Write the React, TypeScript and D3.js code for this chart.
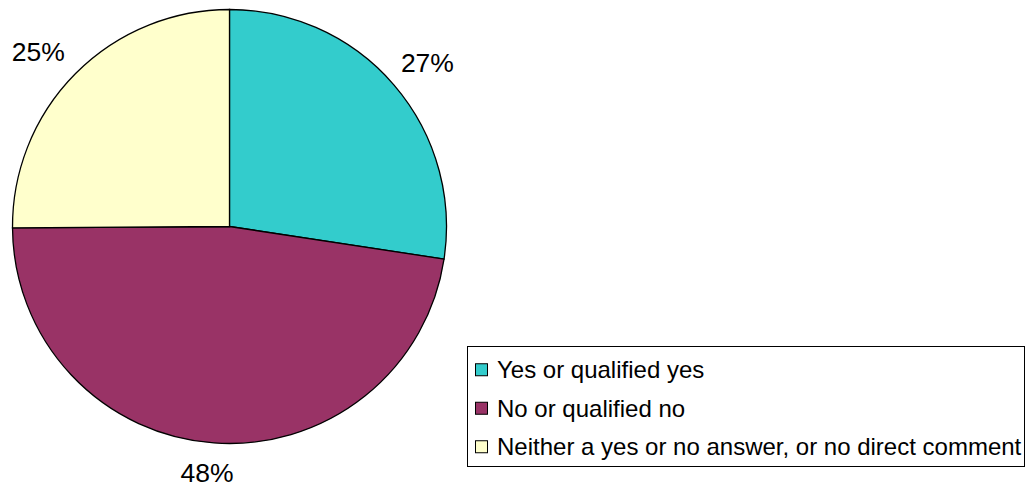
import React from "react";
import * as d3 from "d3";

const categories = ["Yes or qualified yes", "No or qualified no", "Neither a yes or no answer, or no direct comment"];
const values = [27.4, 47.5, 25.1];
const labels = ["27%", "48%", "25%"];
const colors = ["#33CCCC", "#993366", "#FFFFCC"];

export default function App() {
  const W = 1027, H = 486;
  const cx = 229.5, cy = 226.5, r = 217;
  const pie = d3.pie<number>().sort(null).startAngle(0).endAngle(2 * Math.PI)(values);
  const arc = d3.arc<d3.PieArcDatum<number>>().innerRadius(0).outerRadius(r);
  const labelArc = d3.arc<d3.PieArcDatum<number>>().innerRadius(r + 40).outerRadius(r + 40);
  const labelOffsets = [[3, 4], [-4, -10], [-9, 7]];
  const font = "Liberation Sans, Arial, sans-serif";
  const lx = 467.5, ly = 346.5, lw = 557, lh = 120;
  const rowY = d3.scaleBand<number>().domain(d3.range(categories.length)).range([ly + 4, ly + 4 + 3 * 38.5]);
  return (
    <svg width={W} height={H} style={{ position: "absolute", left: 0, top: 0 }}>
      <g transform={`translate(${cx},${cy})`}>
        {pie.map((d, i) => (
          <path key={i} d={arc(d) || ""} fill={colors[i]} stroke="#000" strokeWidth={1.3} />
        ))}
      </g>
      {pie.map((d, i) => {
        const [x, y] = labelArc.centroid(d);
        return (
          <text key={i} x={cx + x + labelOffsets[i][0]} y={cy + y + labelOffsets[i][1]} textAnchor="middle"
            dominantBaseline="central" fontFamily={font} fontSize={26.5} fill="#000">{labels[i]}</text>
        );
      })}
      <rect x={lx} y={ly} width={lw} height={lh} fill="#fff" stroke="#000" strokeWidth={1} />
      {categories.map((c, i) => {
        const yc = (rowY(i) as number) + rowY.bandwidth() / 2;
        return (
          <g key={i}>
            <rect x={475.5} y={yc - 6} width={12} height={12} fill={colors[i]} stroke="#000" strokeWidth={1} />
            <text x={497} y={yc} dominantBaseline="central" fontFamily={font} fontSize={24} fill="#000">{c}</text>
          </g>
        );
      })}
    </svg>
  );
}
